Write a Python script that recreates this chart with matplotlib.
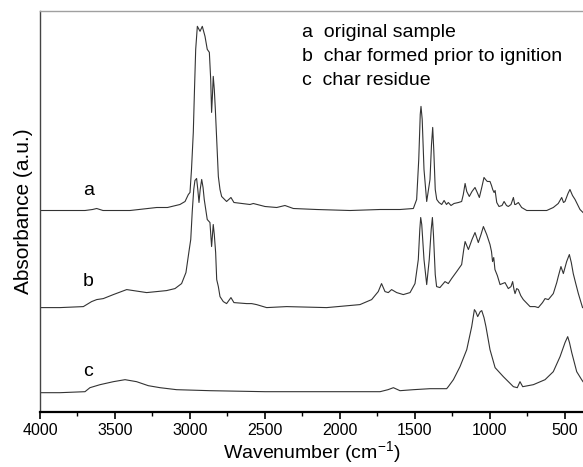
import numpy as np
import matplotlib
matplotlib.use("Agg")
import matplotlib.pyplot as plt
from matplotlib.ticker import MultipleLocator

plt.rcParams['font.family'] = ['Liberation Sans', 'DejaVu Sans']
plt.rcParams['mathtext.default'] = 'regular'

# widmo a - probka wyjsciowa
wn_a = [4000, 3867, 3700, 3650, 3622, 3580, 3400, 3222, 3150, 3067, 3033, 3011,
        3000, 2990, 2978, 2970, 2962, 2951, 2933, 2918, 2900, 2885, 2871, 2862,
        2856, 2850, 2845, 2838, 2831, 2811, 2800, 2789, 2756, 2727, 2707, 2600,
        2578, 2500, 2422, 2367, 2311, 2156, 1933, 1733, 1600, 1511, 1489, 1475,
        1465, 1460, 1452, 1440, 1422, 1400, 1390, 1382, 1375, 1365, 1355, 1340,
        1322, 1306, 1290, 1278, 1260, 1240, 1210, 1189, 1178, 1166, 1155, 1138,
        1120, 1100, 1085, 1071, 1055, 1040, 1030, 1018, 1000, 990, 982, 973,
        966, 955, 940, 920, 906, 890, 878, 860, 844, 835, 829, 811, 789, 755,
        700, 622, 578, 545, 522, 510, 500, 480, 467, 450, 433, 400, 380]
abs_a = [2.01, 2.01, 2.01, 2.02, 2.03, 2.01, 2.01, 2.04, 2.04, 2.07, 2.10, 2.17,
         2.19, 2.42, 2.79, 3.22, 3.62, 3.85, 3.80, 3.85, 3.75, 3.62, 3.59, 3.32,
         2.99, 3.17, 3.35, 3.22, 3.02, 2.35, 2.22, 2.15, 2.10, 2.14, 2.09, 2.07,
         2.08, 2.05, 2.04, 2.06, 2.03, 2.02, 2.01, 2.02, 2.02, 2.03, 2.12, 2.52,
         2.97, 3.05, 2.92, 2.42, 2.10, 2.32, 2.67, 2.84, 2.62, 2.22, 2.12, 2.09,
         2.07, 2.11, 2.07, 2.09, 2.06, 2.08, 2.09, 2.10, 2.17, 2.28, 2.20, 2.15,
         2.20, 2.24, 2.19, 2.14, 2.24, 2.34, 2.32, 2.30, 2.30, 2.26, 2.22, 2.19,
         2.21, 2.09, 2.05, 2.06, 2.10, 2.06, 2.05, 2.07, 2.14, 2.07, 2.07, 2.09,
         2.04, 2.01, 2.01, 2.01, 2.04, 2.08, 2.14, 2.09, 2.10, 2.18, 2.22, 2.16,
         2.12, 2.02, 1.99]

# widmo b - zweglenie przed zaplonem
wn_b = [4000, 3867, 3711, 3656, 3622, 3578, 3511, 3422, 3333, 3289, 3222, 3156,
        3100, 3056, 3027, 3005, 2995, 2985, 2975, 2967, 2956, 2948, 2940, 2932,
        2922, 2913, 2905, 2885, 2867, 2856, 2845, 2838, 2829, 2822, 2811, 2800,
        2778, 2756, 2727, 2707, 2622, 2589, 2556, 2489, 2356, 2089, 1867, 1789,
        1745, 1723, 1700, 1678, 1656, 1622, 1578, 1533, 1500, 1478, 1468, 1462,
        1455, 1440, 1422, 1405, 1392, 1384, 1377, 1365, 1356, 1334, 1300, 1278,
        1256, 1222, 1189, 1175, 1166, 1155, 1144, 1120, 1100, 1078, 1060, 1044,
        1022, 1000, 990, 983, 975, 967, 951, 933, 900, 878, 860, 849, 840, 833,
        822, 811, 795, 778, 733, 700, 678, 650, 633, 611, 578, 555, 545, 527,
        511, 500, 489, 471, 458, 445, 430, 411, 395, 383]
abs_b = [1.04, 1.04, 1.05, 1.10, 1.12, 1.13, 1.17, 1.22, 1.20, 1.19, 1.20, 1.21,
         1.23, 1.28, 1.39, 1.62, 1.72, 2.00, 2.22, 2.31, 2.33, 2.22, 2.09, 2.22,
         2.32, 2.24, 2.12, 1.92, 1.89, 1.65, 1.87, 1.77, 1.59, 1.32, 1.25, 1.15,
         1.10, 1.08, 1.14, 1.09, 1.08, 1.08, 1.07, 1.04, 1.05, 1.04, 1.07, 1.12,
         1.20, 1.28, 1.20, 1.19, 1.22, 1.19, 1.17, 1.19, 1.28, 1.52, 1.82, 1.94,
         1.87, 1.52, 1.27, 1.52, 1.82, 1.94, 1.77, 1.37, 1.25, 1.24, 1.30, 1.28,
         1.33, 1.40, 1.47, 1.62, 1.70, 1.66, 1.62, 1.72, 1.79, 1.69, 1.77, 1.85,
         1.77, 1.67, 1.60, 1.50, 1.54, 1.42, 1.36, 1.27, 1.29, 1.23, 1.25, 1.30,
         1.22, 1.18, 1.23, 1.22, 1.16, 1.12, 1.05, 1.05, 1.04, 1.09, 1.13, 1.12,
         1.18, 1.29, 1.35, 1.45, 1.38, 1.44, 1.50, 1.57, 1.49, 1.38, 1.29, 1.18,
         1.10, 1.04]

# widmo c - pozostalosc
wn_c = [4000, 3867, 3700, 3667, 3600, 3511, 3433, 3356, 3278, 3200, 3089, 2867,
        2500, 2000, 1733, 1680, 1644, 1600, 1511, 1400, 1289, 1278, 1244, 1200,
        1155, 1122, 1104, 1095, 1082, 1065, 1055, 1040, 1027, 1000, 966, 911,
        844, 818, 800, 782, 711, 633, 578, 533, 500, 482, 470, 455, 422, 389,
        380]
abs_c = [0.19, 0.19, 0.20, 0.24, 0.27, 0.30, 0.32, 0.30, 0.26, 0.24, 0.22, 0.21,
         0.20, 0.20, 0.20, 0.22, 0.24, 0.21, 0.22, 0.23, 0.23, 0.25, 0.32, 0.45,
         0.62, 0.85, 1.02, 1.00, 0.95, 1.00, 1.01, 0.94, 0.85, 0.62, 0.44, 0.35,
         0.25, 0.24, 0.30, 0.25, 0.27, 0.32, 0.40, 0.55, 0.69, 0.75, 0.69, 0.59,
         0.40, 0.32, 0.30]

curve_labels = ["a", "b", "c"]
label_pos = [(3673, 2.21), (3680, 1.30), (3680, 0.40)]
legend_lines = ["a  original sample",
                "b  char formed prior to ignition",
                "c  char residue"]

fig = plt.figure(figsize=(5.83, 4.67), dpi=100)
ax = fig.add_axes([0.0686, 0.1184, 0.9314, 0.8574])

for wn, ab in [(wn_a, abs_a), (wn_b, abs_b), (wn_c, abs_c)]:
    ax.plot(wn, ab, color="#333333", lw=0.8)

for lab, (x, y) in zip(curve_labels, label_pos):
    ax.text(x, y, lab, fontsize=14, ha="center", va="center")

for i, line in enumerate(legend_lines):
    ax.text(0.4825, 0.946 - i * 0.059, line, transform=ax.transAxes,
            fontsize=14, ha="left", va="center")

ax.set_xlim(4000, 380)
ax.set_ylim(0, 4.0)
ax.xaxis.set_major_locator(MultipleLocator(500))
ax.xaxis.set_minor_locator(MultipleLocator(250))
ax.tick_params(axis="x", which="major", direction="out", length=5, width=1.2,
               labelsize=11.5, pad=3)
ax.tick_params(axis="x", which="minor", direction="out", length=3, width=1.0)
ax.set_yticks([])

ax.spines["right"].set_visible(False)
ax.spines["top"].set_color("#a0a0a0")
ax.spines["top"].set_linewidth(1.0)
ax.spines["left"].set_color("#444444")
ax.spines["left"].set_linewidth(1.0)
ax.spines["bottom"].set_color("black")
ax.spines["bottom"].set_linewidth(1.6)

ax.set_xlabel("Wavenumber (cm$^{-1}$)", fontsize=14, labelpad=1)
ax.set_ylabel("Absorbance (a.u.)", fontsize=15, labelpad=5)

fig.savefig("out.png", dpi=100)
